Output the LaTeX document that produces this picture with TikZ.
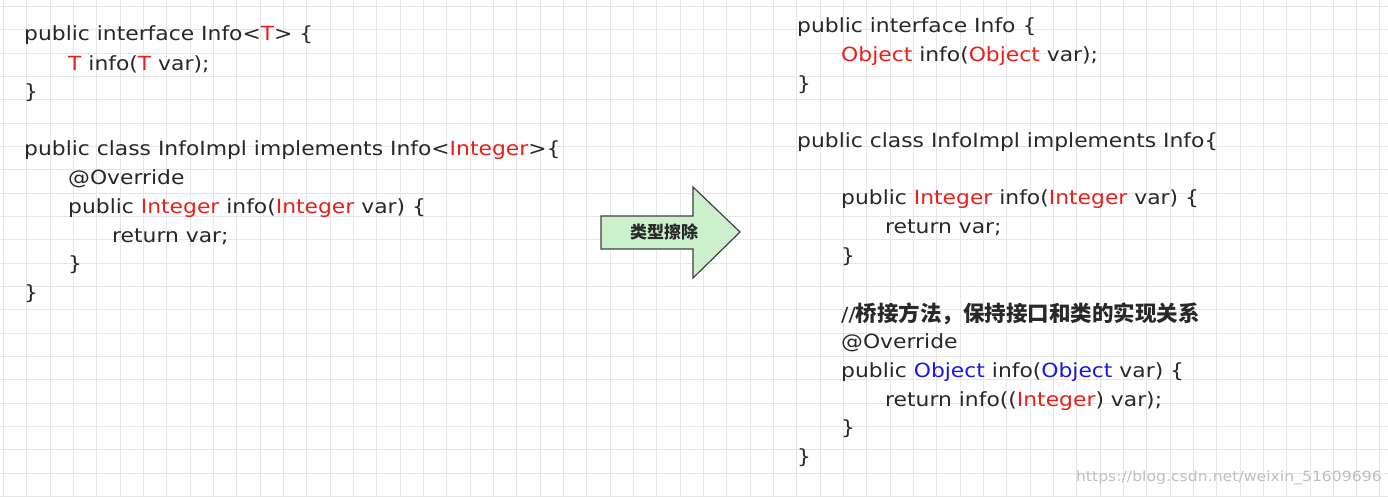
\documentclass[tikz,border=0pt]{standalone}
\usepackage{fontspec}
\setmainfont[FakeStretch=1.12]{DejaVu Sans}
\newfontfamily\cjk{Noto Sans CJK SC}
\definecolor{rd}{RGB}{232,32,28}
\definecolor{bl}{RGB}{24,24,230}
\definecolor{tx}{RGB}{40,40,40}
\definecolor{gr}{RGB}{230,230,230}
\definecolor{ag}{RGB}{204,240,204}
\newcommand{\R}[1]{\textcolor{rd}{#1}}
\newcommand{\B}[1]{\textcolor{bl}{#1}}
\begin{document}
\begin{tikzpicture}[x=1pt,y=-1pt,
  code/.style={anchor=west,inner sep=0pt,text=tx,font=\fontsize{19.5}{24}\selectfont}]
\useasboundingbox (0,0) rectangle (1388,496);
\fill[white] (0,0) rectangle (1388,496);
\foreach \i in {0,...,59} {\draw[gr,line width=1] (3.5+\i*23.33,0) -- (3.5+\i*23.33,496);}
\foreach \j in {0,...,21} {\draw[gr,line width=1] (0,6.4+\j*23.33) -- (1388,6.4+\j*23.33);}
% left
\node[code] (l1) at (24,35) {public interface Info<\R{T}> \{};
\node[code] (l2) at (68,64) {\R{T} info(\R{T} var);};
\node[code] (l3) at (24,93) {\}};
\node[code] (l4) at (24,150) {public class InfoImpl implements Info<\R{Integer}>\{};
\node[code] (l5) at (68,179) {@Override};
\node[code] (l6) at (68,208) {public \R{Integer} info(\R{Integer} var) \{};
\node[code] (l7) at (112,237) {return var;};
\node[code] (l8) at (68,265) {\}};
\node[code] (l9) at (24,294) {\}};
% right
\node[code] (r1) at (797,27) {public interface Info \{};
\node[code] (r2) at (841,56) {\R{Object} info(\R{Object} var);};
\node[code] (r3) at (797,85) {\}};
\node[code] (r4) at (797,142) {public class InfoImpl implements Info\{};
\node[code] (r5) at (841,199) {public \R{Integer} info(\R{Integer} var) \{};
\node[code] (r6) at (885,228) {return var;};
\node[code] (r7) at (841,257) {\}};
\node[code] (r8) at (841,314) {//{\cjk\bfseries\fontsize{21.5}{24}\selectfont 桥接方法，保持接口和类的实现关系}};
\node[code] (r9) at (841,343) {@Override};
\node[code] (r10) at (841,372) {public \B{Object} info(\B{Object} var) \{};
\node[code] (r11) at (885,401) {return info((\R{Integer}) var);};
\node[code] (r12) at (841,429) {\}};
\node[code] (r13) at (797,458) {\}};
% arrow
\draw[fill=ag,draw=black!75,line width=1.2,line join=miter]
  (601,216) -- (693,216) -- (693,187) -- (740,232) -- (693,278) -- (693,249) -- (601,249) -- cycle;
\node[text=tx,font=\cjk\bfseries\fontsize{17}{19}\selectfont] (ar) at (664,232) {类型擦除};
\node[anchor=east,inner sep=0pt,text=black!25,font=\fontsize{14}{16}\selectfont] (wm) at (1382,478) {https://blog.csdn.net/weixin\_51609696};
\end{tikzpicture}
\end{document}
